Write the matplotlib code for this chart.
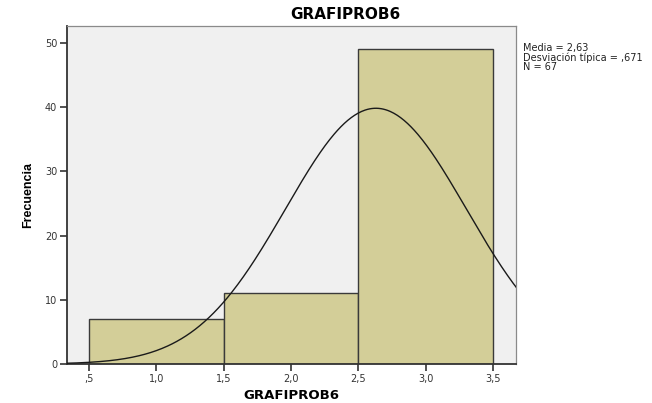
import numpy as np
import matplotlib
matplotlib.use("Agg")
import matplotlib.pyplot as plt

# Histogram of GRAFIPROB6 with fitted normal curve
bin_edges = [0.5, 1.5, 2.5, 3.5]
counts = [7, 11, 49]
mean = 2.63
std = 0.671
n = 67
x_ticks = [0.5, 1.0, 1.5, 2.0, 2.5, 3.0, 3.5]
x_tick_labels = [",5", "1,0", "1,5", "2,0", "2,5", "3,0", "3,5"]
y_ticks = [0, 10, 20, 30, 40, 50]

plt.rcParams['font.family'] = ['DejaVu Sans']

fig = plt.figure(figsize=(6.52, 4.03), dpi=100)
ax = fig.add_axes([0.1028, 0.0968, 0.6886, 0.8387])
ax.set_facecolor('#f0f0f0')

widths = np.diff(bin_edges)
ax.bar(bin_edges[:-1], counts, width=widths, align='edge',
       color='#d3ce98', edgecolor='#3a3a3a', linewidth=1.0, zorder=2)

xs = np.linspace(0.3, 3.7, 400)
bw = widths[0]
ys = n * bw / (std * np.sqrt(2 * np.pi)) * np.exp(-0.5 * ((xs - mean) / std) ** 2)
ax.plot(xs, ys, color='#1a1a1a', linewidth=1.0, zorder=3)

ax.set_xlim(0.337, 3.67)
ax.set_ylim(0, 52.65)
ax.set_xticks(x_ticks)
ax.set_xticklabels(x_tick_labels)
ax.set_yticks(y_ticks)
ax.tick_params(axis='both', direction='out', length=5, width=1.2,
               labelsize=7, colors='#333333', labelcolor='#333333', pad=2)

for side in ['left', 'bottom']:
    ax.spines[side].set_color('#333333')
    ax.spines[side].set_linewidth(1.3)
for side in ['top', 'right']:
    ax.spines[side].set_color('#8a8a8a')
    ax.spines[side].set_linewidth(0.9)

fig.text(345 / 652, 1 - 19 / 403, 'GRAFIPROB6', fontsize=11,
         fontweight='bold', ha='center', va='baseline')
ax.set_xlabel('GRAFIPROB6', fontsize=9.5, fontweight='bold', labelpad=4)
ax.set_ylabel('Frecuencia', fontsize=9, fontweight='bold', labelpad=8,
              family='Liberation Sans')

fig.text(523 / 652, 1 - 43 / 403,
         'Media = 2,63\nDesviación típica = ,671\nN = 67',
         fontsize=7, va='top', ha='left', linespacing=0.9, color='#222222')

fig.savefig('out.png', dpi=100)
